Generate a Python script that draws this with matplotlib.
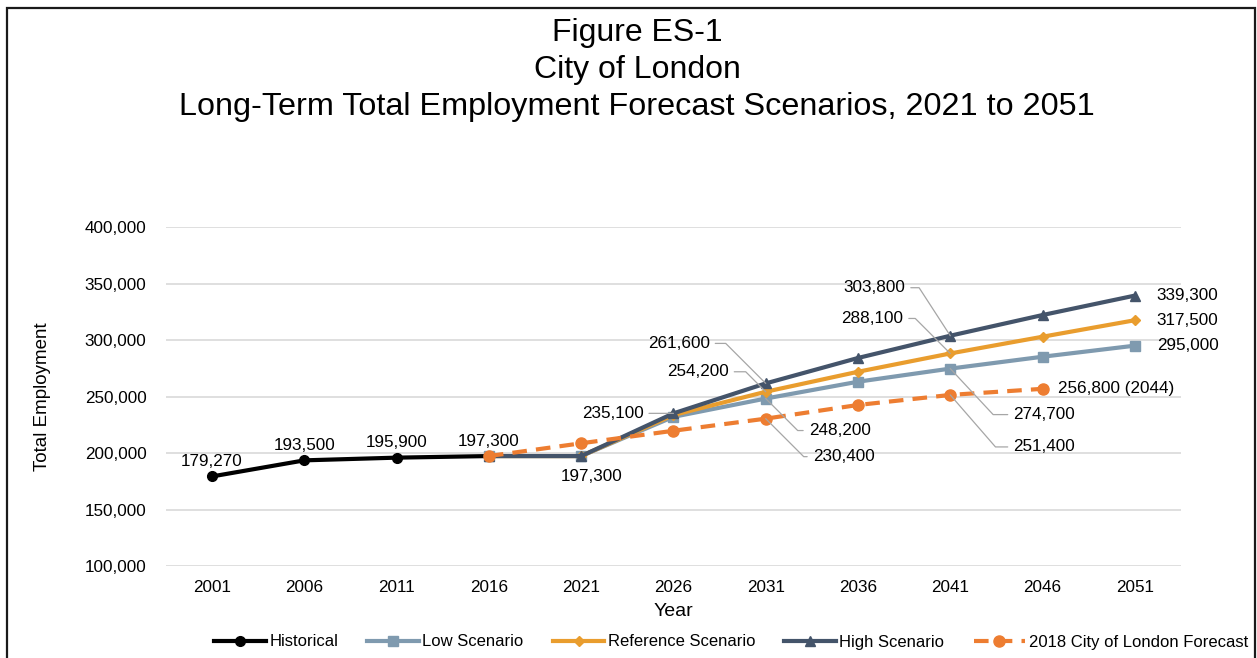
import matplotlib
matplotlib.use("Agg")
import matplotlib.pyplot as plt
from matplotlib.patches import Rectangle
from matplotlib.ticker import FuncFormatter

plt.rcParams['font.family'] = ['Liberation Sans', 'DejaVu Sans']

years = ['2001', '2006', '2011', '2016', '2021', '2026', '2031', '2036', '2041', '2046', '2051']

# historical 2001-2016
historical = [179270, 193500, 195900, 197300]
# scenarios start at 2016
low = [197300, 197300, 232000, 248200, 263100, 274700, 285200, 295000]
reference = [197300, 197300, 233600, 254200, 271900, 288100, 302900, 317500]
high = [197300, 197300, 235100, 261600, 284100, 303800, 322100, 339300]
# 2018 forecast 2016-2046 (last point is the 2044 value)
forecast = [197300, 208600, 219700, 230400, 242500, 251400, 256800]

hist_x = list(range(0, 4))
scen_x = list(range(3, 11))
fc_x = list(range(3, 10))

c_hist = '#000000'
c_low = '#7F9AAF'
c_ref = '#E99D2E'
c_high = '#44546A'
c_fc = '#ED7D31'
c_lead = '#A6A6A6'

fig = plt.figure(figsize=(12.57, 6.58), dpi=100)
ax = fig.add_axes([0.132, 0.1398, 0.8075, 0.5152])

ax.plot(hist_x, historical, color=c_hist, lw=3, marker='o', ms=7, label='Historical', zorder=3)
ax.plot(scen_x, low, color=c_low, lw=3, marker='s', ms=7, label='Low Scenario', zorder=3)
ax.plot(scen_x, reference, color=c_ref, lw=3, marker='D', ms=5, label='Reference Scenario', zorder=3)
ax.plot(scen_x, high, color=c_high, lw=3, marker='^', ms=7, label='High Scenario', zorder=3)
ax.plot(fc_x, forecast, color=c_fc, lw=3, ls=(0, (3.5, 2.2)), marker='o', ms=8,
        label='2018 City of London Forecast', zorder=4)

ax.set_xlim(-0.5, 10.5)
ax.set_ylim(100000, 400000)
ax.set_yticks(range(100000, 400001, 50000))
ax.yaxis.set_major_formatter(FuncFormatter(lambda v, p: f'{int(v):,}'))
ax.set_xticks(range(len(years)))
ax.set_xticklabels(years)
ax.tick_params(axis='both', length=0, labelsize=12.3, colors='#000000')
ax.tick_params(axis='y', pad=14)
ax.tick_params(axis='x', pad=10)
ax.grid(axis='y', color='#D9D9D9', lw=1.2)
ax.set_axisbelow(True)
for s in ax.spines.values():
    s.set_visible(False)

ax.set_ylabel('Total Employment', fontsize=13.5, labelpad=24)
ax.set_xlabel('Year', fontsize=14, labelpad=6)

fs = 12.3

# labels above / below the points
for i, v in enumerate(historical):
    ax.annotate(f'{v:,}', (hist_x[i], v), xytext=(0, 15), textcoords='offset pixels',
                ha='center', va='center', fontsize=fs)
ax.annotate(f'{high[1]:,}', (scen_x[1], high[1]), xytext=(10, -20), textcoords='offset pixels',
            ha='center', va='center', fontsize=fs)

# end labels
for series in (high, reference, low):
    ax.annotate(f'{series[-1]:,}', (scen_x[-1], series[-1]), xytext=(22, 0),
                textcoords='offset pixels', ha='left', va='center', fontsize=fs)
ax.annotate(f'{forecast[-1]:,} (2044)', (fc_x[-1], forecast[-1]), xytext=(15, 0),
            textcoords='offset pixels', ha='left', va='center', fontsize=fs)


def leader(x, y, dx, dy, ang):
    ha = 'right' if dx < 0 else 'left'
    rel = (1, 0.5) if dx < 0 else (0, 0.5)
    if ang is None:
        cs = 'arc3'
    else:
        cs = f'angle,angleA=0,angleB={ang},rad=0'
    ax.annotate(f'{y:,}', (x, y), xytext=(dx, dy), textcoords='offset pixels',
                ha=ha, va='center', fontsize=fs,
                arrowprops=dict(arrowstyle='-', color=c_lead, lw=0.9, shrinkA=2, shrinkB=0,
                                relpos=rel, connectionstyle=cs), zorder=5)


leader(scen_x[2], high[2], -30, 0, None)
leader(scen_x[3], high[3], -56, 40, 135)
leader(scen_x[3], reference[3], -37, 20, 135)
leader(scen_x[3], low[3], 43, -32, -45)
leader(fc_x[3], forecast[3], 47, -38, -45)
leader(scen_x[5], high[5], -45, 48, 123)
leader(scen_x[5], reference[5], -47, 35, 135)
leader(scen_x[5], low[5], 63, -46, -47)
leader(fc_x[5], forecast[5], 63, -52, -49)

# titles
fig.text(0.507, 1 - 33 / 658, 'Figure ES-1', ha='center', va='center', fontsize=23)
fig.text(0.507, 1 - 70 / 658, 'City of London', ha='center', va='center', fontsize=23)
fig.text(0.507, 1 - 107 / 658, 'Long-Term Total Employment Forecast Scenarios, 2021 to 2051',
         ha='center', va='center', fontsize=23.3)

fig.legend(loc='center', bbox_to_anchor=(731 / 1257, 1 - 642 / 658), ncol=5, frameon=False,
           fontsize=12, handlelength=3.1, handletextpad=0.2, columnspacing=1.75,
           borderpad=0.2)

fig.add_artist(Rectangle((7 / 1257, -0.05), 1248 / 1257, 1.05 - 8 / 658, transform=fig.transFigure,
                         fill=False, ec='#1a1a1a', lw=1.6, clip_on=False))

fig.savefig('out.png', dpi=100)
